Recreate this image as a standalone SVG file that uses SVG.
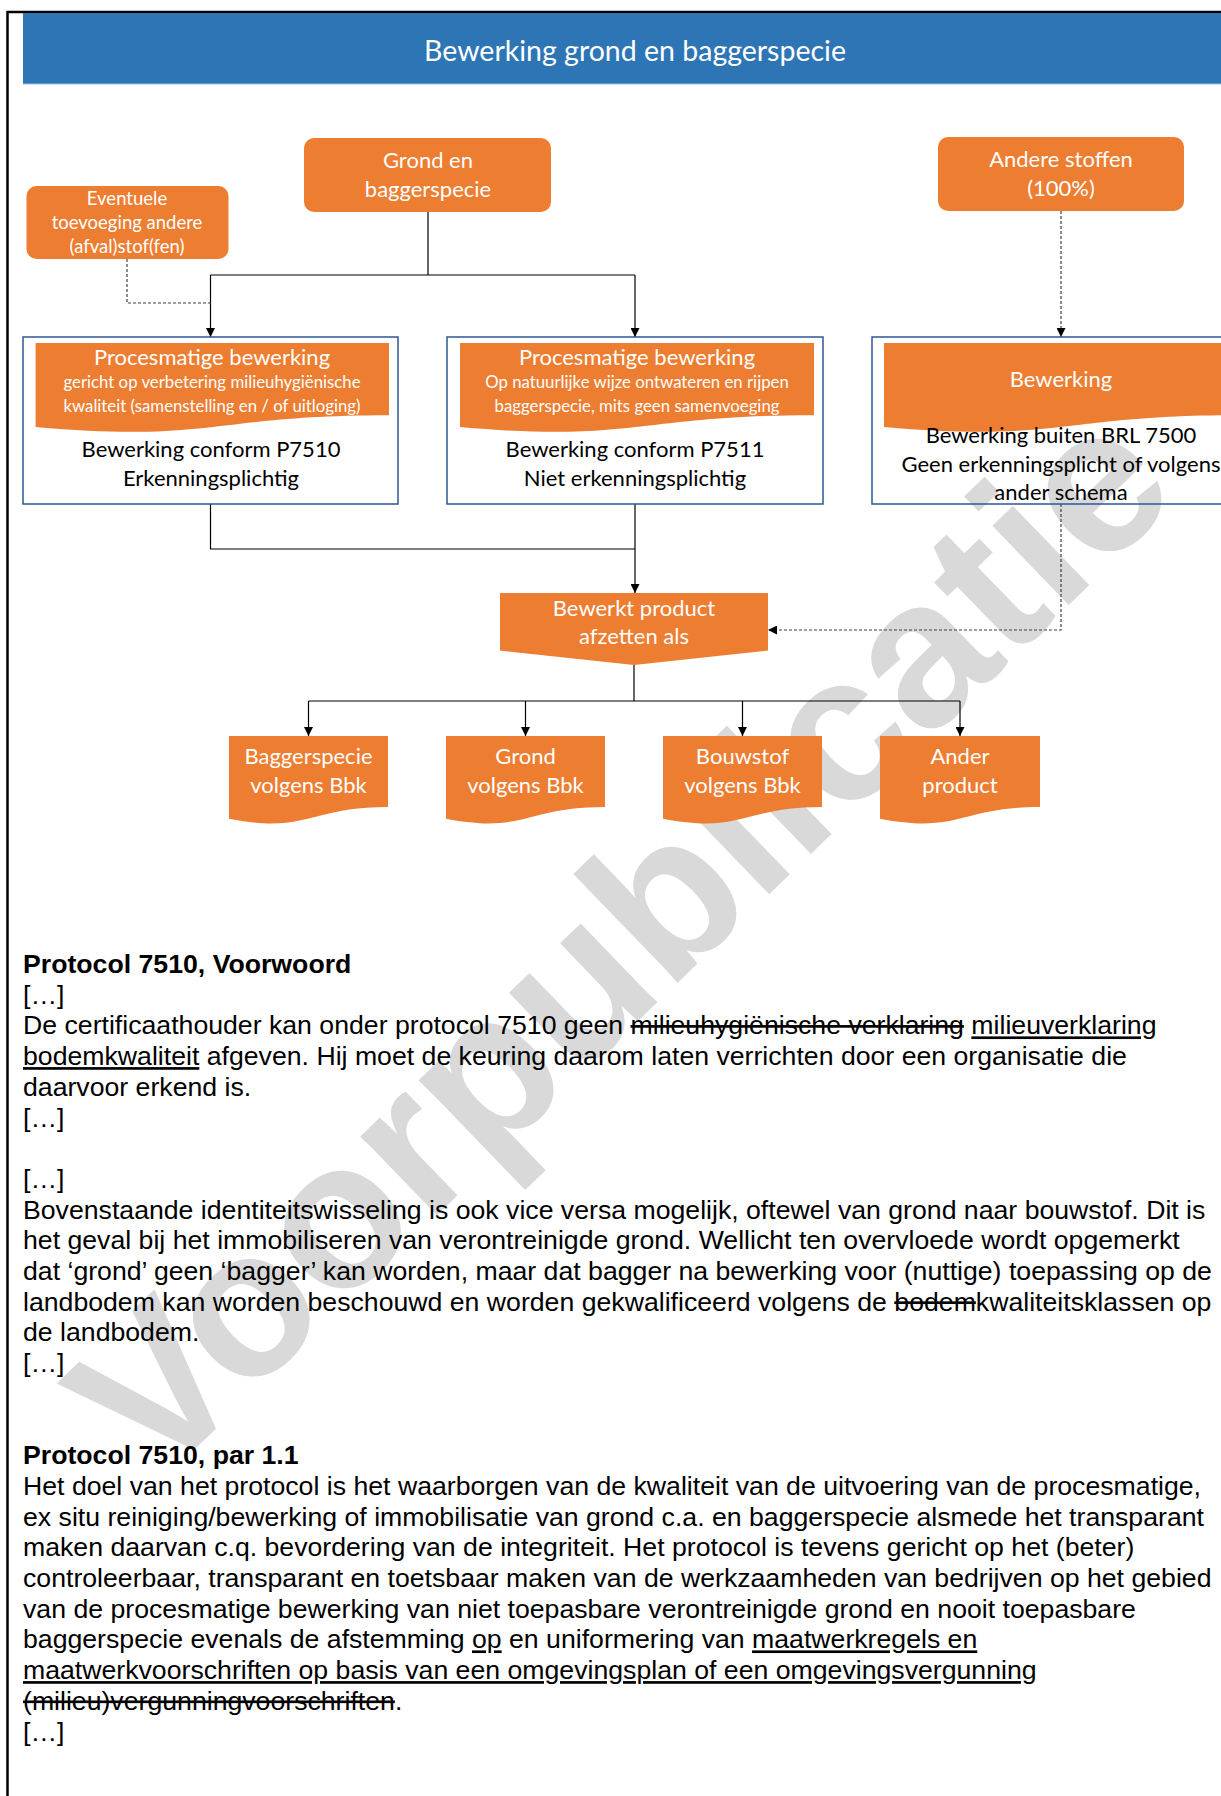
<svg xmlns="http://www.w3.org/2000/svg" width="1221" height="1796" viewBox="0 0 1221 1796">
<defs>
<style>
.c{font-family:Lato,"Open Sans",sans-serif;text-anchor:middle}
.w{fill:#ffffff}
.k{fill:#000000}
.f24{font-size:22px}
.f20{font-size:18.5px}
.f18{font-size:16.8px}
.or{fill:#ED7D31}
.bx{fill:none;stroke:#2F5597;stroke-width:1.5}
.ln{fill:none;stroke:#000000;stroke-width:1.2}
.ds{fill:none;stroke:#404040;stroke-width:1.2;stroke-dasharray:3 2}
.bt{font-family:"Liberation Sans",Arial,sans-serif;font-size:26.67px;fill:#000000}
.bd{font-weight:bold}
.u{text-decoration:underline}
.s{text-decoration:line-through}
</style>
<marker id="ah" viewBox="0 0 10 10" refX="10" refY="5" markerWidth="9" markerHeight="9" markerUnits="userSpaceOnUse" orient="auto">
<path d="M0,0 L10,5 L0,10 Z" fill="#000000"/>
</marker>
</defs>
<rect x="0" y="0" width="1221" height="1796" fill="#ffffff"/>
<g id="watermark">
<text x="0" y="0" text-anchor="middle" transform="translate(669,991) rotate(-44)" font-family="Liberation Sans, Arial, sans-serif" font-weight="bold" font-size="208" fill="#d9d9d9">Voorpublicatie</text>
</g>
<g id="frame">
<path d="M7.5,1796 V12 H1221" fill="none" stroke="#000000" stroke-width="2.5"/>
</g>
<g id="header">
<rect x="23" y="13" width="1240" height="71" fill="#2E75B6"/>
<line x1="23" y1="84" x2="1221" y2="84" stroke="#9DC3E6" stroke-width="1"/>
<text class="c w" x="635" y="61" font-size="28.5">Bewerking grond en baggerspecie</text>
</g>
<g id="connectors">
<path class="ln" d="M428,212 V275 M210.5,275 H635"/>
<path class="ln" d="M210.5,275 V337" marker-end="url(#ah)"/>
<path class="ln" d="M635,275 V337" marker-end="url(#ah)"/>
<path class="ds" d="M127,259 V303 H210.5"/>
<path class="ds" d="M1061,211 V337" marker-end="url(#ah)"/>
<path class="ln" d="M210.5,504 V549 H635"/>
<path class="ln" d="M635,504 V593" marker-end="url(#ah)"/>
<path class="ds" d="M1061,504 V630 H768" marker-end="url(#ah)"/>
<path class="ln" d="M634,665 V701 M308.5,701 H960"/>
<path class="ln" d="M308.5,701 V736" marker-end="url(#ah)"/>
<path class="ln" d="M525.5,701 V736" marker-end="url(#ah)"/>
<path class="ln" d="M742.5,701 V736" marker-end="url(#ah)"/>
<path class="ln" d="M960,701 V736" marker-end="url(#ah)"/>
</g>
<g id="n-eventuele">
<rect class="or" x="26.5" y="186" width="202" height="73" rx="10"/>
<text class="c w f20" x="127" y="205">Eventuele</text>
<text class="c w f20" x="127" y="229">toevoeging andere</text>
<text class="c w f20" x="127" y="253">(afval)stof(fen)</text>
</g>
<g id="n-grond">
<rect class="or" x="304" y="138" width="247" height="74" rx="10"/>
<text class="c w f24" x="428" y="168">Grond en</text>
<text class="c w f24" x="428" y="197">baggerspecie</text>
</g>
<g id="n-andere">
<rect class="or" x="938" y="137" width="246" height="74" rx="10"/>
<text class="c w f24" x="1061" y="167">Andere stoffen</text>
<text class="c w f24" x="1061" y="196">(100%)</text>
</g>
<g id="n-p7510">
<rect class="bx" x="23" y="337" width="375" height="167"/>
<path class="or" d="M35.6,343 H389 V415.2 C212.3,415.2 212.3,442.6 35.6,427.1 Z"/>
<text class="c w f24" x="212" y="365">Procesmatige bewerking</text>
<text class="c w f18" x="212" y="388">gericht op verbetering milieuhygiënische</text>
<text class="c w f18" x="212" y="412">kwaliteit (samenstelling en / of uitloging)</text>
<text class="c k f24" x="211" y="457">Bewerking conform P7510</text>
<text class="c k f24" x="211" y="486">Erkenningsplichtig</text>
</g>
<g id="n-p7511">
<rect class="bx" x="447" y="337" width="376" height="167"/>
<path class="or" d="M460,343 H814 V415.2 C637,415.2 637,442.6 460,427.1 Z"/>
<text class="c w f24" x="637" y="365">Procesmatige bewerking</text>
<text class="c w f18" x="637" y="388">Op natuurlijke wijze ontwateren en rijpen</text>
<text class="c w f18" x="637" y="412">baggerspecie, mits geen samenvoeging</text>
<text class="c k f24" x="635" y="457">Bewerking conform P7511</text>
<text class="c k f24" x="635" y="486">Niet erkenningsplichtig</text>
</g>
<g id="n-overig">
<rect class="bx" x="872" y="337" width="378" height="167"/>
<path class="or" d="M884,343 H1238 V415.2 C1061,415.2 1061,442.6 884,427.1 Z"/>
<text class="c w f24" x="1061" y="387">Bewerking</text>
<text class="c k f24" x="1061" y="443">Bewerking buiten BRL 7500</text>
<text class="c k f24" x="1061" y="472">Geen erkenningsplicht of volgens</text>
<text class="c k f24" x="1061" y="500">ander schema</text>
</g>
<g id="n-bewerkt">
<path class="or" d="M500,593 H768 V650.6 L634,665 L500,650.6 Z"/>
<text class="c w f24" x="634" y="616">Bewerkt product</text>
<text class="c w f24" x="634" y="644">afzetten als</text>
</g>
<g id="n-bagger">
<path class="or" d="M229,736 H388 V807 C308.5,807 308.5,834 229,818.7 Z"/>
<text class="c w f24" x="308.5" y="764">Baggerspecie</text>
<text class="c w f24" x="308.5" y="793">volgens Bbk</text>
</g>
<g id="n-grondbbk">
<path class="or" d="M446,736 H605 V807 C525.5,807 525.5,834 446,818.7 Z"/>
<text class="c w f24" x="525.5" y="764">Grond</text>
<text class="c w f24" x="525.5" y="793">volgens Bbk</text>
</g>
<g id="n-bouwstof">
<path class="or" d="M663,736 H822 V807 C742.5,807 742.5,834 663,818.7 Z"/>
<text class="c w f24" x="742.5" y="764">Bouwstof</text>
<text class="c w f24" x="742.5" y="793">volgens Bbk</text>
</g>
<g id="n-ander">
<path class="or" d="M880,736 H1040 V807 C960,807 960,834 880,818.7 Z"/>
<text class="c w f24" x="960" y="764">Ander</text>
<text class="c w f24" x="960" y="793">product</text>
</g>
<g id="bodytext" class="bt">
<text x="23" y="973" class="bd">Protocol 7510, Voorwoord</text>
<text x="23" y="1003.7">[…]</text>
<text x="23" y="1034.4">De certificaathouder kan onder protocol 7510 geen <tspan class="s">milieuhygiënische verklaring</tspan> <tspan class="u">milieuverklaring</tspan></text>
<text x="23" y="1065.1"><tspan class="u">bodemkwaliteit</tspan> afgeven. Hij moet de keuring daarom laten verrichten door een organisatie die</text>
<text x="23" y="1095.8">daarvoor erkend is.</text>
<text x="23" y="1126.5">[…]</text>
<text x="23" y="1187.9">[…]</text>
<text x="23" y="1218.6">Bovenstaande identiteitswisseling is ook vice versa mogelijk, oftewel van grond naar bouwstof. Dit is</text>
<text x="23" y="1249.3">het geval bij het immobiliseren van verontreinigde grond. Wellicht ten overvloede wordt opgemerkt</text>
<text x="23" y="1280">dat ‘grond’ geen ‘bagger’ kan worden, maar dat bagger na bewerking voor (nuttige) toepassing op de</text>
<text x="23" y="1310.7">landbodem kan worden beschouwd en worden gekwalificeerd volgens de <tspan class="s">bodem</tspan>kwaliteitsklassen op</text>
<text x="23" y="1341.4">de landbodem.</text>
<text x="23" y="1372.1">[…]</text>
<text x="23" y="1464.2" class="bd">Protocol 7510, par 1.1</text>
<text x="23" y="1494.9">Het doel van het protocol is het waarborgen van de kwaliteit van de uitvoering van de procesmatige,</text>
<text x="23" y="1525.6">ex situ reiniging/bewerking of immobilisatie van grond c.a. en baggerspecie alsmede het transparant</text>
<text x="23" y="1556.3">maken daarvan c.q. bevordering van de integriteit. Het protocol is tevens gericht op het (beter)</text>
<text x="23" y="1587">controleerbaar, transparant en toetsbaar maken van de werkzaamheden van bedrijven op het gebied</text>
<text x="23" y="1617.7">van de procesmatige bewerking van niet toepasbare verontreinigde grond en nooit toepasbare</text>
<text x="23" y="1648.4">baggerspecie evenals de afstemming <tspan class="u">op</tspan> en uniformering van <tspan class="u">maatwerkregels en</tspan></text>
<text x="23" y="1679.1"><tspan class="u">maatwerkvoorschriften op basis van een omgevingsplan of een omgevingsvergunning</tspan></text>
<text x="23" y="1709.8"><tspan class="s">(milieu)vergunningvoorschriften</tspan>.</text>
<text x="23" y="1740.5">[…]</text>
</g>
</svg>
